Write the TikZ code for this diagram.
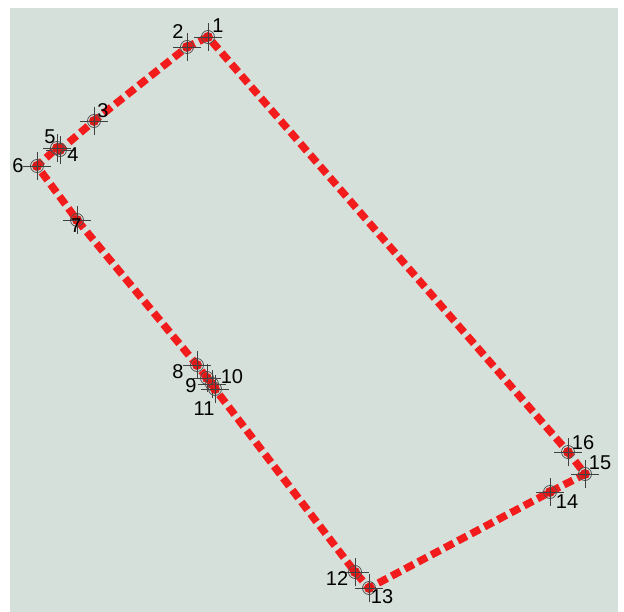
\documentclass[tikz,border=0pt]{standalone}
\usepackage{fontspec}
\setmainfont{Liberation Sans}
\definecolor{bgc}{HTML}{D6E0DA}
\definecolor{routec}{HTML}{F21C1C}
\definecolor{markc}{HTML}{505050}
\begin{document}
\begin{tikzpicture}[x=1pt,y=-1pt,
  route/.style={draw=routec,line width=7.5pt,dash pattern=on 10pt off 5pt,line join=round},
  dot/.style={fill=routec!90!black},
  ring/.style={draw=markc,line width=0.8pt},
  cross/.style={draw=markc!80!black,line width=0.8pt},
  lab/.style={font=\fontsize{20}{20}\selectfont,text=black,inner sep=0pt}]
\useasboundingbox (0,0) rectangle (624,612);
\fill[white] (0,0) rectangle (624,612);
\fill[bgc] (10,8) rectangle (618,612);
\coordinate (p1) at (208,37);
\coordinate (p2) at (187,47);
\coordinate (p3) at (94,121);
\coordinate (p4) at (60,150);
\coordinate (p5) at (57,148);
\coordinate (p6) at (37,166);
\coordinate (p7) at (77,220);
\coordinate (p8) at (197,365);
\coordinate (p9) at (207,378);
\coordinate (p10) at (212,384);
\coordinate (p11) at (215,389);
\coordinate (p12) at (355,572);
\coordinate (p13) at (369,588);
\coordinate (p14) at (550,492);
\coordinate (p15) at (585,474);
\coordinate (p16) at (568,452);
\draw[route] (p1) -- (p2) -- (p3) -- (p4) -- (p5) -- (p6) -- (p7) -- (p8) -- (p9) -- (p10) -- (p11) -- (p12) -- (p13) -- (p14) -- (p15) -- (p16) -- cycle;
\foreach \i in {1,...,16}{
  \fill[dot] (p\i) circle (5);
  \draw[ring] (p\i) circle (6.5);
  \draw[cross] ([xshift=-14pt]p\i) -- ([xshift=14pt]p\i);
  \draw[cross] ([yshift=-14pt]p\i) -- ([yshift=14pt]p\i);
}
\node[lab] (l1) at (218,26) {1};
\node[lab] (l2) at (178,32) {2};
\node[lab] (l3) at (103,111) {3};
\node[lab] (l4) at (73,155) {4};
\node[lab] (l5) at (50,137) {5};
\node[lab] (l6) at (18,166) {6};
\node[lab] (l7) at (76,226) {7};
\node[lab] (l8) at (178,372) {8};
\node[lab] (l9) at (191,386) {9};
\node[lab] (l10) at (232,377) {10};
\node[lab] (l11) at (204,409) {11};
\node[lab] (l12) at (337,579) {12};
\node[lab] (l13) at (382,597) {13};
\node[lab] (l14) at (567,502) {14};
\node[lab] (l15) at (600,463) {15};
\node[lab] (l16) at (583,443) {16};
\end{tikzpicture}
\end{document}
